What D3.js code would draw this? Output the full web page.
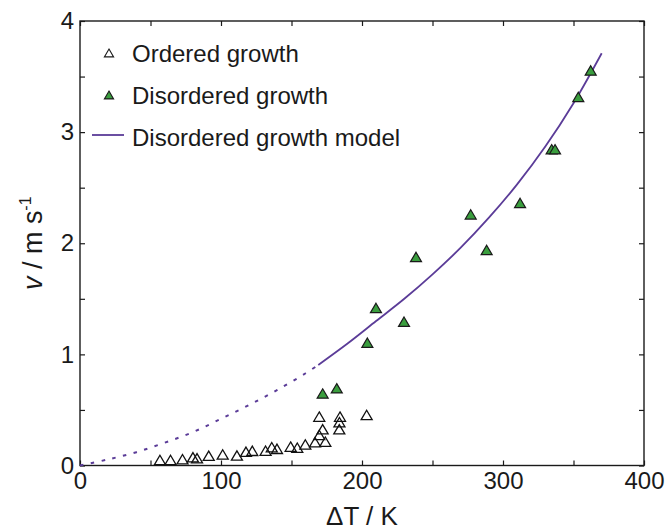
<!DOCTYPE html>
<html>
<head>
<meta charset="utf-8">
<script src="https://cdn.jsdelivr.net/npm/d3@7"></script>
<style>
  body { margin: 0; background: #fff; }
  svg text { font-family: "Liberation Sans", Arial, sans-serif; fill: #1a1a1a; }
</style>
</head>
<body>
<div id="chart"></div>
<script>
// ordered growth (open triangles)
const orderedDT = [56.7, 64.2, 72.7, 80.1, 83.0, 91.3, 101.2, 111.3, 117.7, 122.2, 131.6, 136.0, 139.7,
  149.4, 154.1, 159.8, 166.7, 169.7, 172.1, 174.0, 169.7, 184.4, 184.0, 183.9, 203.3];
const orderedV = [0.05, 0.05, 0.057, 0.074, 0.065, 0.088, 0.10, 0.09, 0.124, 0.132, 0.133, 0.165, 0.15,
  0.17, 0.16, 0.19, 0.21, 0.275, 0.326, 0.214, 0.44, 0.44, 0.39, 0.326, 0.455];

// disordered growth (green triangles)
const disorderedDT = [172.1, 182.1, 203.8, 209.9, 229.8, 238.3, 277.1, 288.4, 312.1, 334.5, 336.9, 353.4, 362.2];
const disorderedV = [0.648, 0.695, 1.105, 1.418, 1.294, 1.877, 2.26, 1.94, 2.363, 2.846, 2.846, 3.317, 3.555];

// model curve, dotted part (extrapolation) and solid part
const modelDotDT = [0, 20, 40, 60, 80, 100, 120, 140, 160, 169];
const modelDotV = [0, 0.055, 0.12, 0.205, 0.3, 0.42, 0.545, 0.68, 0.83, 0.905];
const modelDT = [169, 190, 210, 230, 250, 270, 290, 310, 330, 350, 370];
const modelV = [0.905, 1.1, 1.3, 1.5, 1.72, 1.96, 2.23, 2.53, 2.87, 3.26, 3.71];

const xTicks = [0, 100, 200, 300, 400];
const xMinor = [50, 150, 250, 350];
const yTicks = [0, 1, 2, 3, 4];
const yMinor = [0.5, 1.5, 2.5, 3.5];

const W = 668, H = 532;
const margin = { top: 21, right: 24, bottom: 66.5, left: 80 };
const width = W - margin.left - margin.right;
const height = H - margin.top - margin.bottom;

const purple = "#5b3c98";
const green = "#3a9e3e";

const svg = d3.select("#chart").append("svg")
  .attr("width", W)
  .attr("height", H);

const g = svg.append("g")
  .attr("transform", "translate(" + margin.left + "," + margin.top + ")");

const x = d3.scaleLinear().domain([0, 400]).range([0, width]);
const y = d3.scaleLinear().domain([0, 4]).range([height, 0]);

// triangle with its box centred on the point
const tri = {
  draw(ctx, size) {
    const w = Math.sqrt(size) * 1.1, h = w * 0.85;
    ctx.moveTo(0, -h / 2);
    ctx.lineTo(w / 2, h / 2);
    ctx.lineTo(-w / 2, h / 2);
    ctx.closePath();
  }
};

// axes, ticks pointing in
const fontSize = 24;
g.append("g")
  .attr("transform", "translate(0," + height + ")")
  .call(d3.axisBottom(x).tickValues(xTicks).tickFormat(d3.format("d")).tickSizeInner(-5).tickSizeOuter(0).tickPadding(6));
g.append("g")
  .attr("transform", "translate(0," + height + ")")
  .call(d3.axisBottom(x).tickValues(xMinor).tickFormat("").tickSizeInner(-5).tickSizeOuter(0));
g.append("g")
  .call(d3.axisTop(x).tickValues(xTicks.concat(xMinor)).tickFormat("").tickSizeInner(-5).tickSizeOuter(0));

g.append("g")
  .call(d3.axisLeft(y).tickValues(yTicks).tickFormat(d3.format("d")).tickSizeInner(-5).tickSizeOuter(0).tickPadding(6));
g.append("g")
  .call(d3.axisLeft(y).tickValues(yMinor).tickFormat("").tickSizeInner(-5).tickSizeOuter(0));
g.append("g")
  .attr("transform", "translate(" + width + ",0)")
  .call(d3.axisRight(y).tickValues(yTicks.concat(yMinor)).tickFormat("").tickSizeInner(-5).tickSizeOuter(0));

g.selectAll(".domain").remove();
g.selectAll(".tick line").attr("stroke", "#1a1a1a").attr("stroke-width", 1.2);
g.selectAll(".tick text")
  .style("font-family", "'Liberation Sans', Arial, sans-serif")
  .style("font-size", fontSize + "px")
  .attr("fill", "#1a1a1a");

// frame
g.append("rect")
  .attr("width", width)
  .attr("height", height)
  .attr("fill", "none")
  .attr("stroke", "#1a1a1a")
  .attr("stroke-width", 1.4);

// model curve
const line = d3.line()
  .x(d => x(d[0]))
  .y(d => y(d[1]))
  .curve(d3.curveCatmullRom);

g.append("path")
  .datum(d3.zip(modelDotDT, modelDotV))
  .attr("d", line)
  .attr("fill", "none")
  .attr("stroke", purple)
  .attr("stroke-width", 2)
  .attr("stroke-dasharray", "3.5,7.5");

g.append("path")
  .datum(d3.zip(modelDT, modelV))
  .attr("d", line)
  .attr("fill", "none")
  .attr("stroke", purple)
  .attr("stroke-width", 1.8);

// ordered points
g.selectAll(".ordered")
  .data(d3.zip(orderedDT, orderedV))
  .enter()
  .append("path")
  .attr("class", "ordered")
  .attr("d", d3.symbol(tri, 100))
  .attr("transform", d => "translate(" + x(d[0]) + "," + y(d[1]) + ")")
  .attr("fill", "none")
  .attr("stroke", "#111")
  .attr("stroke-width", 1.3);

// disordered points
g.selectAll(".disordered")
  .data(d3.zip(disorderedDT, disorderedV))
  .enter()
  .append("path")
  .attr("class", "disordered")
  .attr("d", d3.symbol(tri, 100))
  .attr("transform", d => "translate(" + x(d[0]) + "," + y(d[1]) + ")")
  .attr("fill", green)
  .attr("stroke", "#1a1a1a")
  .attr("stroke-width", 1.2);

// legend
const legend = svg.append("g");
const legendRows = [
  { label: "Ordered growth", y: 53, kind: "open" },
  { label: "Disordered growth", y: 95, kind: "filled" },
  { label: "Disordered growth model", y: 137, kind: "line" }
];
legendRows.forEach(r => {
  if (r.kind === "line") {
    legend.append("line")
      .attr("x1", 92).attr("x2", 124)
      .attr("y1", r.y - 2).attr("y2", r.y - 2)
      .attr("stroke", purple)
      .attr("stroke-width", 1.8);
  } else {
    legend.append("path")
      .attr("d", d3.symbol(tri, 70))
      .attr("transform", "translate(109," + r.y + ")")
      .attr("fill", r.kind === "filled" ? green : "none")
      .attr("stroke", "#1a1a1a")
      .attr("stroke-width", 1.1);
  }
  legend.append("text")
    .attr("x", 132)
    .attr("y", r.y + 9)
    .style("font-size", "24px")
    .text(r.label);
});

// axis titles
svg.append("text")
  .attr("x", margin.left + width / 2)
  .attr("y", 525)
  .attr("text-anchor", "middle")
  .style("font-size", "26px")
  .text("\u0394T / K");

const yt = svg.append("text")
  .attr("transform", "translate(42," + (margin.top + height / 2) + ") rotate(-90)")
  .attr("text-anchor", "middle")
  .style("font-size", "27px");
yt.append("tspan").style("font-style", "italic").text("v");
yt.append("tspan").text(" / m s");
yt.append("tspan").attr("dy", -11).style("font-size", "16px").text("-1");
</script>
</body>
</html>
